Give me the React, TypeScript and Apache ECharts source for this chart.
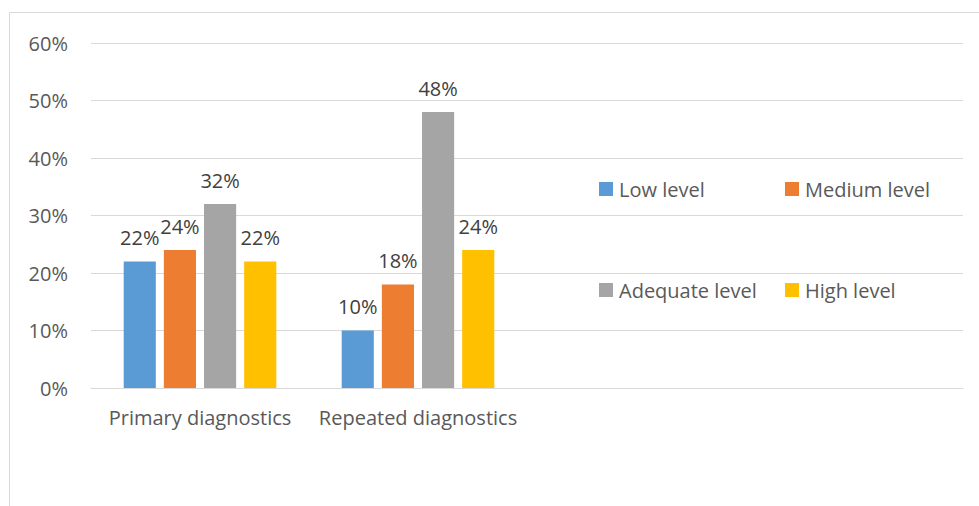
import React, { useEffect, useRef } from "react";
import * as echarts from "echarts";

const categories = ["Primary diagnostics", "Repeated diagnostics", "", ""];
const seriesNames = ["Low level", "Medium level", "Adequate level", "High level"];
const lowLevel = [0.22, 0.10, null, null];
const mediumLevel = [0.24, 0.18, null, null];
const adequateLevel = [0.32, 0.48, null, null];
const highLevel = [0.22, 0.24, null, null];
const colors = ["#5B9BD5", "#ED7D31", "#A5A5A5", "#FFC000"];
const yTicks = [0, 0.1, 0.2, 0.3, 0.4, 0.5, 0.6];

const FONT = "Open Sans";
const FS = 20;

export default function App() {
  const ref = useRef<HTMLDivElement>(null);
  useEffect(() => {
    document.body.style.margin = "0";
    const chart = echarts.init(ref.current!, null, { renderer: "svg" });
    const values = [lowLevel, mediumLevel, adequateLevel, highLevel];
    const legendPos = [
      { left: 599, top: 179 },
      { left: 785, top: 179 },
      { left: 599, top: 280 },
      { left: 785, top: 280 },
    ];
    chart.setOption({
      animation: false,
      textStyle: { fontFamily: FONT },
      grid: { left: 91, right: 16, top: 43, bottom: 118, containLabel: false },
      legend: seriesNames.map((n, i) => ({
        data: [n],
        left: legendPos[i].left,
        top: legendPos[i].top,
        itemWidth: 14,
        itemHeight: 14,
        itemGap: 5,
        icon: "rect",
        padding: 0,
        textStyle: { fontFamily: FONT, fontSize: FS, color: "#595959", padding: [0, 0, 0, 1] },
      })),
      xAxis: {
        type: "category",
        data: categories,
        axisLine: { lineStyle: { color: "#D9D9D9", width: 1 } },
        axisTick: { show: false },
        axisLabel: { color: "#595959", fontSize: FS, fontFamily: FONT, margin: 19, interval: 0 },
      },
      yAxis: {
        type: "value",
        min: yTicks[0],
        max: yTicks[yTicks.length - 1],
        interval: 0.1,
        axisLine: { show: false },
        axisTick: { show: false },
        splitLine: { lineStyle: { color: "#D9D9D9", width: 1 } },
        axisLabel: {
          color: "#595959",
          fontSize: FS,
          fontFamily: FONT,
          margin: 23,
          formatter: (v: number) => Math.round(v * 100) + "%",
        },
      },
      graphic: [
        {
          type: "rect",
          shape: { x: 9.5, y: 12.5, width: 1000, height: 600 },
          style: { fill: "none", stroke: "#D9D9D9", lineWidth: 1 },
          silent: true,
        },
      ],
      series: seriesNames.map((n, i) => ({
        name: n,
        type: "bar",
        data: values[i],
        barGap: "25%",
        barCategoryGap: "30%",
        itemStyle: { color: colors[i] },
        label: {
          show: true,
          position: "top",
          distance: 14,
          color: "#404040",
          fontSize: FS,
          fontFamily: FONT,
          formatter: (p: any) => Math.round(p.value * 100) + "%",
        },
      })),
    });
    return () => chart.dispose();
  }, []);
  return (
    <div
      ref={ref}
      style={{ position: "fixed", left: 0, top: 0, width: 979, height: 506, background: "#fff" }}
    />
  );
}
